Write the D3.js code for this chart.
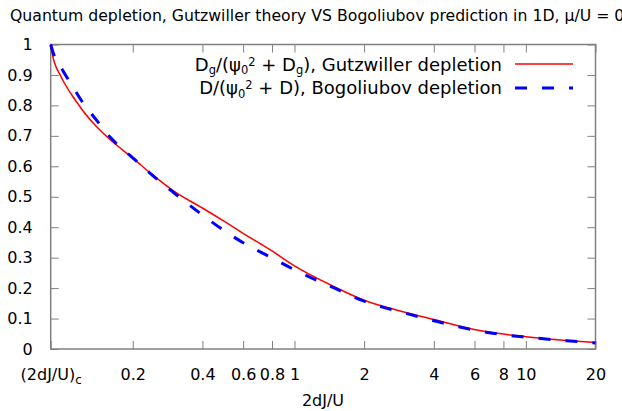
<!DOCTYPE html>
<html><head><meta charset="utf-8">
<script src="https://cdn.jsdelivr.net/npm/d3@7/dist/d3.min.js"></script>
<style>
body{margin:0;background:#fff;}
svg{display:block;font-family:"DejaVu Sans",sans-serif;}
</style></head>
<body><svg id="c" width="622" height="411"></svg>
<script>
// critical point (2dJ/U)_c
const xCrit = 0.0884;
// x ticks
const xTickValues = [xCrit, 0.2, 0.4, 0.6, 0.8, 1, 2, 4, 6, 8, 10, 20];
const xTickLabels = ["(2dJ/U)c", "0.2", "0.4", "0.6", "0.8", "1", "2", "4", "6", "8", "10", "20"];
const yTickValues = [0, 0.1, 0.2, 0.3, 0.4, 0.5, 0.6, 0.7, 0.8, 0.9, 1];
const yTickLabels = ["0", "0.1", "0.2", "0.3", "0.4", "0.5", "0.6", "0.7", "0.8", "0.9", "1"];

// Gutzwiller depletion
const gutzX = [0.0884, 0.09, 0.0923, 0.0971, 0.1, 0.11, 0.115, 0.12, 0.14, 0.16, 0.2, 0.25, 0.3, 0.4, 0.5, 0.6, 0.8, 1, 1.5, 2, 3, 4, 6, 8, 10, 15, 20];
const gutzY = [1.0, 0.965, 0.935, 0.9, 0.881, 0.83, 0.809, 0.789, 0.729, 0.687, 0.627, 0.565, 0.519, 0.463, 0.418, 0.38, 0.322, 0.273, 0.203, 0.160, 0.121, 0.097, 0.064, 0.049, 0.0406, 0.028, 0.021];

// Bogoliubov depletion
const bogX = [0.0884, 0.09, 0.1, 0.11, 0.12, 0.14, 0.16, 0.2, 0.25, 0.3, 0.4, 0.5, 0.6, 0.8, 1, 1.5, 2, 3, 4, 6, 8, 10, 15, 20];
const bogY = [1.0, 0.98, 0.913, 0.862, 0.816, 0.75, 0.695, 0.628, 0.563, 0.514, 0.44, 0.387, 0.349, 0.299, 0.26, 0.199, 0.157, 0.118, 0.093, 0.062, 0.047, 0.039, 0.027, 0.02];

const svg = d3.select("#c");
const L = 50.7, R = 595.5, T = 44.5, B = 349;
const x = d3.scaleLog().domain([xCrit, 20]).range([L, R]);
const y = d3.scaleLinear().domain([0, 1]).range([B, T]);
const gray = "#808080";

// title
svg.append("text").attr("x", 10).attr("y", 21).attr("font-size", 15.7).attr("fill", "#000")
  .text("Quantum depletion, Gutzwiller theory VS Bogoliubov prediction in 1D, \u03bc/U = 0.8");

// axes (ticks inward, on all sides)
const tl = 8;
const gBottom = svg.append("g").attr("transform", `translate(0,${B})`)
  .call(d3.axisBottom(x).tickValues(xTickValues).tickSizeInner(-tl).tickSizeOuter(0)
    .tickPadding(tl + 12).tickFormat((d, i) => xTickLabels[i]));
const gTop = svg.append("g").attr("transform", `translate(0,${T})`)
  .call(d3.axisTop(x).tickValues(xTickValues).tickSizeInner(-tl).tickSizeOuter(0).tickFormat(""));
const gLeft = svg.append("g").attr("transform", `translate(${L},0)`)
  .call(d3.axisLeft(y).tickValues(yTickValues).tickSizeInner(-tl).tickSizeOuter(0)
    .tickPadding(tl + 10).tickFormat((d, i) => yTickLabels[i]));
const gRight = svg.append("g").attr("transform", `translate(${R},0)`)
  .call(d3.axisRight(y).tickValues(yTickValues).tickSizeInner(-tl).tickSizeOuter(0).tickFormat(""));
[gBottom, gTop, gLeft, gRight].forEach(g => {
  g.select(".domain").remove();
  g.selectAll("line").attr("stroke", gray).attr("stroke-width", 1);
  g.selectAll("text").attr("font-size", 16).attr("fill", "#000").attr("font-family", "DejaVu Sans, sans-serif");
});
// first x label with subscript
gBottom.selectAll("text").filter((d, i) => i === 0).text(null).call(t => {
  t.append("tspan").text("(2dJ/U)");
  t.append("tspan").attr("font-size", 12).attr("dy", 4).text("c");
});

// frame
svg.append("rect").attr("x", L).attr("y", T).attr("width", R - L).attr("height", B - T)
  .attr("fill", "none").attr("stroke", gray).attr("stroke-width", 1.5);

// x label
svg.append("text").attr("x", 323).attr("y", 406).attr("text-anchor", "middle")
  .attr("font-size", 16).text("2dJ/U");

const line = d3.line().x(d => x(d[0])).y(d => y(d[1])).curve(d3.curveMonotoneX);
const gutz = gutzX.map((v, i) => [v, gutzY[i]]);
const bog = bogX.map((v, i) => [v, bogY[i]]);

svg.append("path").attr("d", line(gutz)).attr("fill", "none").attr("stroke", "#ff0000").attr("stroke-width", 1.5);
svg.append("path").attr("d", line(bog)).attr("fill", "none").attr("stroke", "#0000ff")
  .attr("stroke-width", 3).attr("stroke-dasharray", "12,15");

// legend
const lg = svg.append("g");
function legendText(yy, parts) {
  const t = lg.append("text").attr("x", 502).attr("y", yy).attr("text-anchor", "end").attr("font-size", 18);
  parts.forEach(p => {
    const s = t.append("tspan").text(p[0]);
    if (p[1] === "sub") s.attr("font-size", 11.5).attr("dy", 3.5);
    if (p[1] === "sup") s.attr("font-size", 11.5).attr("dy", -8.5);
    if (p[1] === "back") s.attr("dy", p[2]);
  });
}
legendText(70.7, [["D"], ["g", "sub"], ["/(\u03c8", "back", -3.5], ["0", "sub"], ["2", "sup"], [" + D", "back", 5], ["g", "sub"], ["), Gutzwiller depletion", "back", -3.5]]);
legendText(94, [["D/(\u03c8"], ["0", "sub"], ["2", "sup"], [" + D), Bogoliubov depletion", "back", 5]]);
lg.append("line").attr("x1", 515).attr("x2", 573).attr("y1", 64).attr("y2", 64).attr("stroke", "#ff0000").attr("stroke-width", 1.5);
lg.append("line").attr("x1", 515).attr("x2", 573).attr("y1", 88).attr("y2", 88).attr("stroke", "#0000ff").attr("stroke-width", 3).attr("stroke-dasharray", "12,15");
</script></body></html>
